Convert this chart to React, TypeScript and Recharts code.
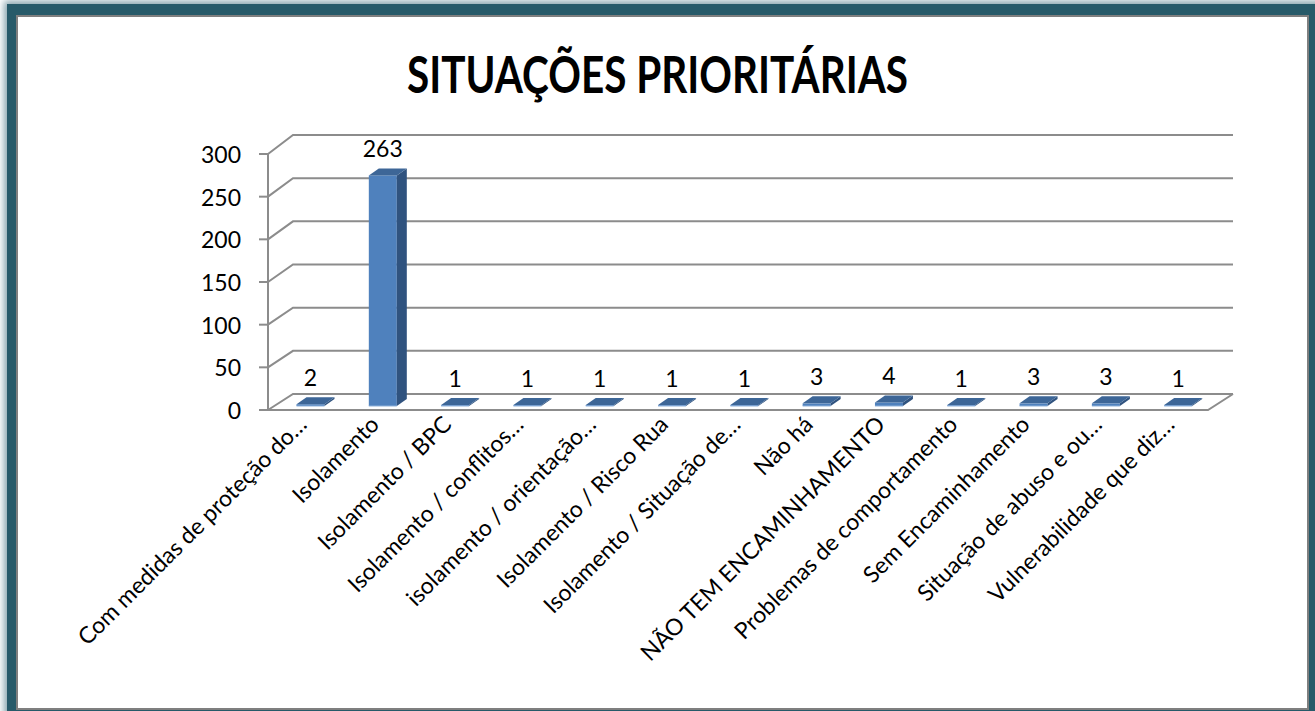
import React from 'react';
import { BarChart, Bar, XAxis, YAxis, CartesianGrid, LabelList } from 'recharts';

const categories = [
  'Com medidas de proteção do…',
  'Isolamento',
  'Isolamento / BPC',
  'Isolamento / conflitos…',
  'isolamento / orientação…',
  'Isolamento / Risco Rua',
  'Isolamento / Situação de…',
  'Não há',
  'NÃO TEM ENCAMINHAMENTO',
  'Problemas de comportamento',
  'Sem Encaminhamento',
  'Situação de abuso e ou…',
  'Vulnerabilidade que diz…',
];
const values = [2, 263, 1, 1, 1, 1, 1, 3, 4, 1, 3, 3, 1];
const yTicks = [0, 50, 100, 150, 200, 250, 300];

const data = categories.map((name, i) => ({ name, value: values[i] }));

// plot area = plane of the bars' front faces
const W = 1315;
const H = 711;
const PL = 274.5;
const PR = 1214.5;
const PT = 143;
const PB = 406;
const YW = 60;
const XH = 30;
// front and back planes of the 3d box
const FRONT_DX = -6.5;
const FRONT_BOTTOM = 410;
const FRONT_H = 256;
const BACK_DX = 18.5;
const BACK_BOTTOM = 394;
const BACK_H = 259;
const DEPTH_X = 10;
const DEPTH_Y = -7;

const LINE = '#8c8c8c';
const FONT = 'Lato, "Open Sans", sans-serif';

const frac = (y: number) => (PB - y) / (PB - PT);

const GridLine = (props: any) => {
  const { y1, index } = props;
  const f = frac(y1);
  const fx = PL + FRONT_DX;
  const fy = FRONT_BOTTOM - f * FRONT_H;
  const bx = PL + BACK_DX;
  const by = BACK_BOTTOM - f * BACK_H;
  const bRight = PR + BACK_DX;
  const isFloor = Math.abs(y1 - PB) < 0.5;
  return (
    <g key={`grid-${index}`}>
      <path d={`M${fx},${fy}L${bx},${by}L${bRight},${by}`} fill="none" stroke={LINE} strokeWidth={2} />
      {isFloor && (
        <>
          <path
            d={`M${fx},${fy}L${PR + FRONT_DX},${fy}L${bRight},${by}`}
            fill="none"
            stroke={LINE}
            strokeWidth={2}
          />
          <line x1={fx} y1={fy} x2={fx} y2={FRONT_BOTTOM - FRONT_H} stroke={LINE} strokeWidth={2} />
        </>
      )}
    </g>
  );
};

const YTick = (props: any) => {
  const { y, payload } = props;
  const fy = FRONT_BOTTOM - frac(y) * FRONT_H;
  const fx = PL + FRONT_DX;
  return (
    <g>
      <line x1={fx - 9} y1={fy} x2={fx} y2={fy} stroke={LINE} strokeWidth={2} />
      <text x={fx - 27} y={fy + 9} textAnchor="end" fontSize={23} fontFamily={FONT} fill="#000">
        {payload.value}
      </text>
    </g>
  );
};

const XTick = (props: any) => {
  const { x, payload } = props;
  const ax = x + FRONT_DX + 4;
  const ay = FRONT_BOTTOM + 16;
  return (
    <text
      x={ax}
      y={ay}
      textAnchor="end"
      fontSize={23}
      fontFamily={FONT}
      fill="#000"
      transform={`rotate(-45 ${ax} ${ay})`}
    >
      {payload.value}
    </text>
  );
};

const Bar3D = (props: any) => {
  const { x, y, width, height } = props;
  const h = Math.max(height, 0.5);
  const top = `M${x},${y}L${x + DEPTH_X},${y + DEPTH_Y}L${x + width + DEPTH_X},${y + DEPTH_Y}L${x + width},${y}Z`;
  const side = `M${x + width},${y}L${x + width + DEPTH_X},${y + DEPTH_Y}L${x + width + DEPTH_X},${y + h + DEPTH_Y}L${x + width},${y + h}Z`;
  return (
    <g>
      <rect x={x} y={y} width={width} height={h} fill="#4f81bd" />
      <path d={side} fill="#30537f" />
      <path d={top} fill="#3d6697" />
      <line x1={x} y1={y + h} x2={x + width} y2={y + h} stroke="#8fb1da" strokeWidth={1} />
    </g>
  );
};

const ValueLabel = (props: any) => {
  const { x, y, width, value } = props;
  return (
    <text x={x + width / 2} y={y - 18} textAnchor="middle" fontSize={23} fontFamily={FONT} fill="#000">
      {value}
    </text>
  );
};

export default function App() {
  return (
    <div style={{ position: 'absolute', left: 0, top: 0, width: W, height: H, overflow: 'hidden', background: '#fff' }}>
      <div
        style={{
          position: 'absolute',
          left: 7,
          top: 4,
          width: W + 20,
          height: H + 20,
          background: '#275a69',
          boxShadow: '0 0 7px 3px rgba(39,90,105,0.55)',
        }}
      />
      <div
        style={{
          position: 'absolute',
          left: 16,
          top: 15,
          width: 1293,
          height: 695,
          boxSizing: 'border-box',
          border: '2px solid #7f7f7f',
          background: '#fff',
        }}
      />
      <svg width={W} height={H} style={{ position: 'absolute', left: 0, top: 0 }}>
        <text
          x={657.5}
          y={93}
          textAnchor="middle"
          fontSize={52}
          fontWeight="bold"
          fontFamily={FONT}
          textLength={501}
          lengthAdjust="spacingAndGlyphs"
          fill="#000"
        >
          SITUAÇÕES PRIORITÁRIAS
        </text>
      </svg>
      <div style={{ position: 'absolute', left: 0, top: 0 }}>
        <BarChart
          width={W}
          height={H}
          data={data}
          margin={{ top: PT, right: W - PR, bottom: H - PB - XH, left: PL - YW }}
        >
          <CartesianGrid vertical={false} horizontal={GridLine} />
          <XAxis dataKey="name" interval={0} height={XH} axisLine={false} tickLine={false} tick={XTick} />
          <YAxis
            width={YW}
            domain={[0, 300]}
            ticks={yTicks}
            axisLine={false}
            tickLine={false}
            tick={YTick}
          />
          <Bar dataKey="value" barSize={28} shape={Bar3D} isAnimationActive={false}>
            <LabelList dataKey="value" content={ValueLabel} />
          </Bar>
        </BarChart>
      </div>
    </div>
  );
}
